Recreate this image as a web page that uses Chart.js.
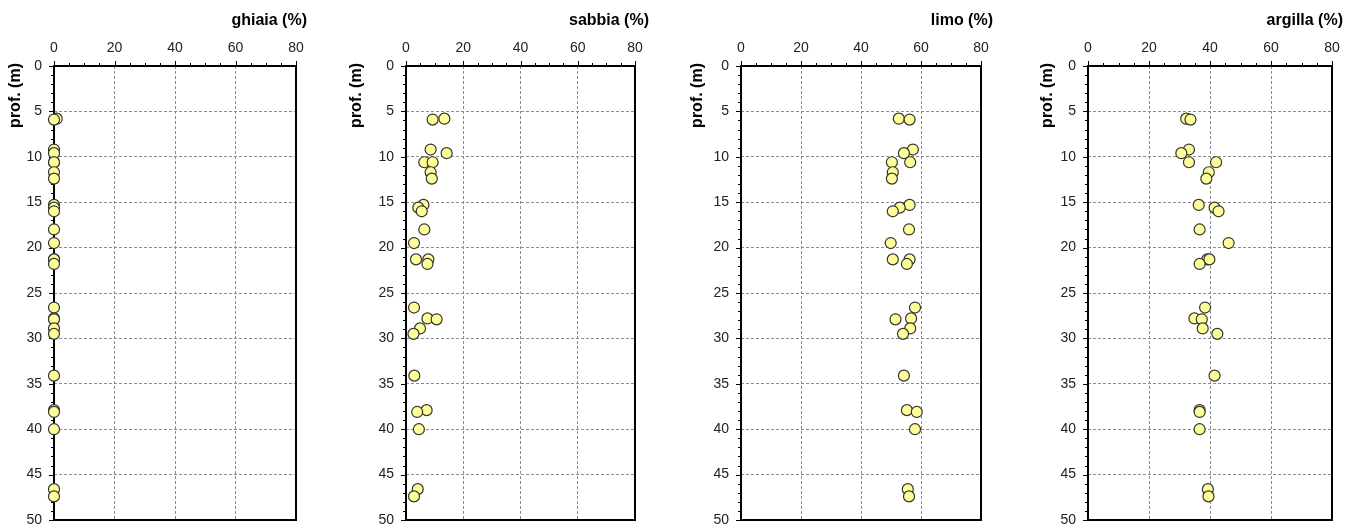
<!DOCTYPE html>
<html>
<head>
<meta charset="utf-8">
<script src="https://cdn.jsdelivr.net/npm/chart.js@4.4.1/dist/chart.umd.min.js"></script>
<style>
  html, body { margin: 0; padding: 0; background: #fff; }
  body { width: 1359px; height: 528px; position: relative; overflow: hidden; }
  canvas { position: absolute; top: 0; }
</style>
</head>
<body>
<canvas id="c0"></canvas>
<canvas id="c1"></canvas>
<canvas id="c2"></canvas>
<canvas id="c3"></canvas>
<script>
// Sample depths (m) and grain size fractions (%).
const depths = [5.8, 5.9, 9.2, 9.6, 10.6, 10.6, 11.7, 12.4, 15.3, 15.6, 16.0, 18.0, 19.5, 21.3, 21.3, 21.8, 26.6, 27.8, 27.9, 28.9, 29.5, 34.1, 37.9, 38.1, 40.0, 46.6, 47.4]
const ghiaia = [0.9, 0, 0, 0, 0, 0, 0, 0, 0, 0, 0, 0, 0, 0, 0, 0, 0, 0, 0, 0, 0, 0, 0, 0, 0, 0, 0]
const sabbia = [13.4, 9.3, 8.6, 14.2, 6.4, 9.3, 8.6, 9.0, 6.1, 4.3, 5.5, 6.4, 2.8, 3.5, 7.8, 7.5, 2.8, 7.5, 10.7, 4.9, 2.6, 2.9, 7.2, 3.9, 4.5, 4.1, 2.8]
const limo = [52.6, 56.2, 57.3, 54.3, 50.3, 56.4, 50.6, 50.3, 56.2, 52.9, 50.6, 56.0, 49.9, 56.2, 50.6, 55.3, 58.0, 56.7, 51.5, 56.4, 54.0, 54.3, 55.3, 58.6, 58.0, 55.6, 56.0]
const argilla = [32.2, 33.6, 33.1, 30.6, 42.0, 33.1, 39.6, 38.8, 36.3, 41.5, 42.8, 36.6, 46.1, 39.1, 39.8, 36.6, 38.4, 34.9, 37.3, 37.6, 42.4, 41.5, 36.6, 36.6, 36.6, 39.3, 39.5]

const xTicks = [0, 20, 40, 60, 80]
const yTicks = [0, 5, 10, 15, 20, 25, 30, 35, 40, 45, 50]

const FONT = "'Liberation Sans', Arial, sans-serif"
const PLOT_TOP = 66
const PLOT_BOTTOM = 520
// canvas is taller than the page, the y labels need room below the plot
const CANVAS_H = 560
const AXIS_W = 60
const PAD_R = 24

const panels = [
  { id: 'c0', title: 'ghiaia (%)',  values: ghiaia,  left: 54,   right: 296,  titleDx: 11, yTitleDx: -34 },
  { id: 'c1', title: 'sabbia (%)',  values: sabbia,  left: 406,  right: 635,  titleDx: 14, yTitleDx: -45 },
  { id: 'c2', title: 'limo (%)',    values: limo,    left: 741,  right: 981,  titleDx: 12, yTitleDx: -39 },
  { id: 'c3', title: 'argilla (%)', values: argilla, left: 1088, right: 1332, titleDx: 11, yTitleDx: -36 },
]

// frame, minor ticks and titles
const decor = {
  id: 'decor',
  beforeDatasetsDraw(chart, args, opts) {
    const { ctx, chartArea: a, scales: { x, y } } = chart
    ctx.save()
    ctx.strokeStyle = '#000'
    ctx.lineWidth = 1
    for (let v = yTicks[0]; v <= yTicks[yTicks.length - 1]; v++) {
      const py = Math.round(y.getPixelForValue(v)) + 0.5
      const len = v % 5 === 0 ? 5 : 3
      ctx.beginPath()
      ctx.moveTo(a.left - len, py)
      ctx.lineTo(a.left, py)
      ctx.stroke()
    }
    for (let v = xTicks[0]; v <= xTicks[xTicks.length - 1]; v += 5) {
      const px = Math.round(x.getPixelForValue(v)) + 0.5
      const len = v % 20 === 0 ? 5 : 3
      ctx.beginPath()
      ctx.moveTo(px, a.top - len)
      ctx.lineTo(px, a.top)
      ctx.stroke()
    }
    ctx.lineWidth = 2
    ctx.strokeRect(a.left, a.top, a.right - a.left, a.bottom - a.top)
    ctx.restore()
  },
  afterDraw(chart, args, opts) {
    const { ctx, chartArea: a } = chart
    ctx.save()
    ctx.fillStyle = '#000'
    ctx.font = 'bold 16px ' + FONT
    ctx.textAlign = 'right'
    ctx.textBaseline = 'alphabetic'
    ctx.fillText(opts.title, a.right + opts.titleDx, 25)
    ctx.translate(a.left + opts.yTitleDx, 63)
    ctx.rotate(-Math.PI / 2)
    ctx.fillText('prof. (m)', 0, 0)
    ctx.restore()
  }
}

panels.forEach(p => {
  const canvas = document.getElementById(p.id)
  const w = p.right - p.left + AXIS_W + PAD_R
  canvas.width = w
  canvas.height = CANVAS_H
  canvas.style.left = (p.left - AXIS_W) + 'px'

  new Chart(canvas, {
    type: 'scatter',
    data: {
      datasets: [{
        data: depths.map((d, i) => ({ x: p.values[i], y: d })),
        backgroundColor: '#ffff99',
        borderColor: '#333',
        borderWidth: 1.2,
        pointRadius: 5.5,
        pointHoverRadius: 5.5,
        clip: false
      }]
    },
    plugins: [decor],
    options: {
      responsive: false,
      animation: false,
      devicePixelRatio: 1,
      layout: { padding: { left: 0, right: PAD_R, top: 0, bottom: CANVAS_H - PLOT_BOTTOM } },
      plugins: {
        legend: { display: false },
        tooltip: { enabled: false },
        decor: { title: p.title, titleDx: p.titleDx, yTitleDx: p.yTitleDx }
      },
      scales: {
        x: {
          type: 'linear',
          position: 'top',
          min: xTicks[0],
          max: xTicks[xTicks.length - 1],
          afterBuildTicks: s => { s.ticks = xTicks.map(v => ({ value: v })) },
          afterFit: s => { s.height = PLOT_TOP },
          ticks: { color: '#222', font: { family: FONT, size: 14 }, padding: 9, maxRotation: 0 },
          grid: { color: '#8c8c8c', lineWidth: 1, drawTicks: false },
          border: { display: false, dash: [3, 2] }
        },
        y: {
          type: 'linear',
          reverse: true,
          min: yTicks[0],
          max: yTicks[yTicks.length - 1],
          afterBuildTicks: s => { s.ticks = yTicks.map(v => ({ value: v })) },
          afterFit: s => { s.width = AXIS_W },
          ticks: { color: '#222', font: { family: FONT, size: 14 }, padding: 12 },
          grid: { color: '#8c8c8c', lineWidth: 1, drawTicks: false },
          border: { display: false, dash: [3, 2] }
        }
      }
    }
  })
})
</script>
</body>
</html>
